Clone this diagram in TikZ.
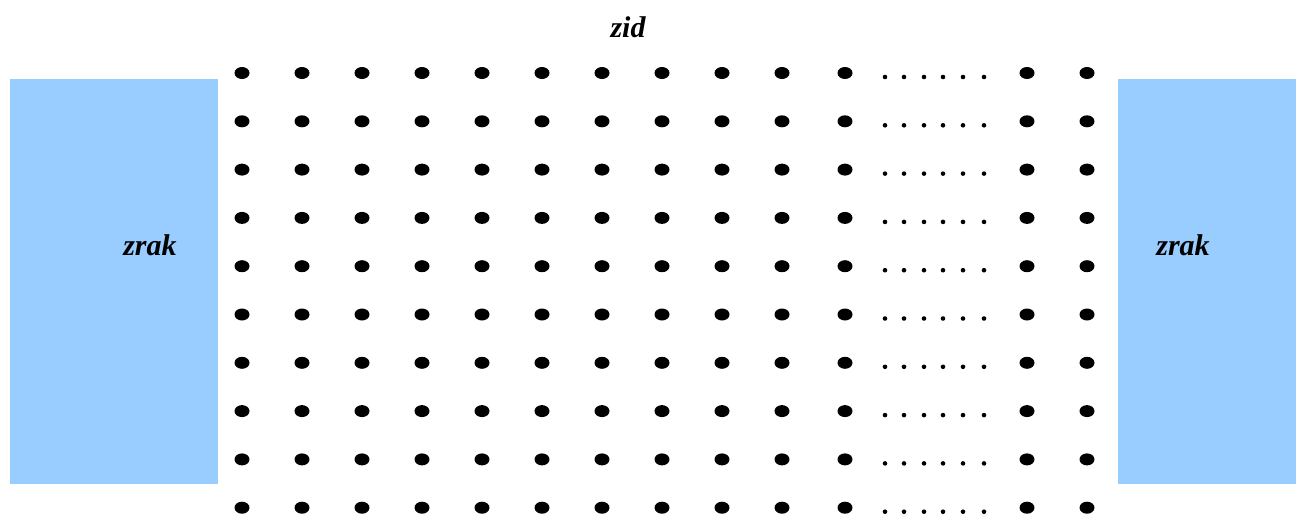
\documentclass[tikz,border=0pt]{standalone}
\usepackage{fontspec}
\setmainfont{Liberation Serif}
\definecolor{airblue}{HTML}{99CCFF}
\begin{document}
\begin{tikzpicture}[x=1pt,y=-1pt,
  airbox/.style={fill=airblue,draw=none},
  lbl/.style={font=\fontsize{30}{36}\selectfont\bfseries\itshape,inner sep=0pt,anchor=base}]
\useasboundingbox[fill=white] (0,0) rectangle (1302,520);
% air regions
\path[airbox] (10,79) rectangle (218,484);
\path[airbox] (1118,79) rectangle (1296,484);
% wall particles
\foreach \r in {0,...,9}{
  \pgfmathsetmacro{\yy}{73+48.3*\r}
  \foreach \c in {242,302,362,422,482,542,602,662,722,782,845,1027,1087}{
    \fill (\c,\yy) ellipse [x radius=7.5,y radius=6];
  }
  \foreach \c in {885,904,924,943,963,984}{
    \fill (\c,\yy+4) circle [radius=2.3];
  }
}
% labels
\node[lbl] (zid) at (628,37) {zid};
\node[lbl] (zrakL) at (150,255) {zrak};
\node[lbl] (zrakR) at (1183,255) {zrak};
\end{tikzpicture}
\end{document}
